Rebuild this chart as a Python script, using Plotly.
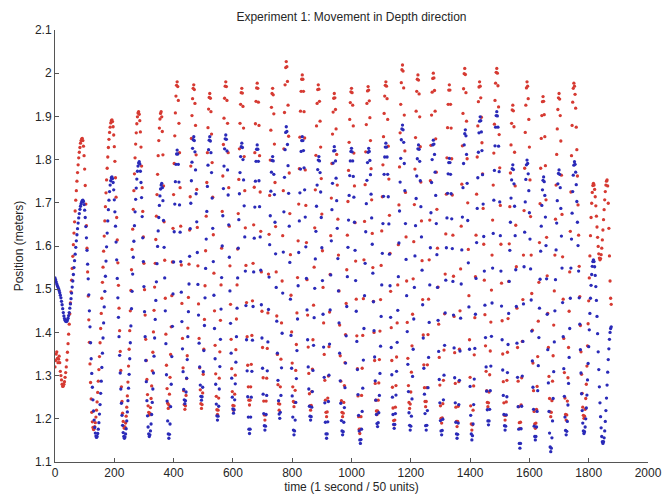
import numpy as np
import plotly.graph_objects as go

# Depth position of the two tracked markers (millimetres), one sample every 2 time units
SAMPLE_STEP = 2

red_depth_mm = [
    1320, 1335, 1350, 1355, 1340, 1330, 1338, 1345, 1330, 1310, 1300, 1290, 1280, 1275,
    1276, 1280, 1286, 1296, 1307, 1320, 1336, 1354, 1374, 1396, 1419, 1443, 1468, 1494, 1521, 1548, 1576, 1603, 1630, 1656, 1681, 1706, 1728, 1750, 1770, 1788, 1804, 1817, 1828, 1838, 1844, 1848, 1849,
    1844, 1831, 1809, 1778, 1740, 1697, 1647, 1595, 1540, 1484, 1429, 1377, 1327, 1284, 1246, 1215, 1193, 1180, 1175,
    1177, 1182, 1191, 1204, 1220, 1239, 1261, 1287, 1314, 1344, 1376, 1409, 1444, 1479, 1516, 1551, 1588, 1623, 1658, 1691, 1723, 1753, 1780, 1806, 1828, 1847, 1863, 1875, 1885, 1890, 1892,
    1888, 1876, 1857, 1830, 1796, 1758, 1713, 1666, 1614, 1561, 1509, 1456, 1404, 1356, 1312, 1274, 1240, 1213, 1194, 1182, 1178,
    1181, 1190, 1206, 1227, 1253, 1285, 1322, 1361, 1404, 1450, 1497, 1545, 1592, 1639, 1685, 1728, 1767, 1804, 1836, 1862, 1883, 1899, 1908, 1911,
    1905, 1890, 1864, 1829, 1785, 1735, 1680, 1621, 1560, 1499, 1440, 1384, 1335, 1291, 1256, 1230, 1215, 1209,
    1213, 1226, 1247, 1276, 1311, 1354, 1401, 1451, 1505, 1560, 1615, 1669, 1719, 1766, 1809, 1844, 1873, 1894, 1907, 1911,
    1899, 1865, 1811, 1739, 1656, 1567, 1479, 1396, 1324, 1270, 1236, 1224,
    1232, 1257, 1296, 1349, 1413, 1485, 1563, 1641, 1719, 1791, 1855, 1908, 1947, 1972, 1980,
    1969, 1937, 1884, 1816, 1735, 1646, 1556, 1467, 1386, 1318, 1265, 1233, 1222,
    1230, 1254, 1293, 1346, 1410, 1481, 1558, 1637, 1714, 1785, 1849, 1902, 1941, 1965, 1973,
    1962, 1930, 1879, 1811, 1731, 1643, 1554, 1466, 1386, 1318, 1267, 1235, 1224,
    1233, 1260, 1303, 1361, 1430, 1508, 1589, 1669, 1747, 1816, 1874, 1917, 1944, 1953,
    1942, 1911, 1859, 1793, 1713, 1626, 1537, 1450, 1370, 1304, 1252, 1221, 1210,
    1220, 1248, 1294, 1355, 1428, 1510, 1595, 1680, 1762, 1835, 1896, 1942, 1970, 1980,
    1969, 1937, 1884, 1816, 1735, 1646, 1554, 1465, 1384, 1316, 1263, 1231, 1220,
    1230, 1257, 1301, 1360, 1431, 1510, 1593, 1675, 1754, 1825, 1884, 1928, 1955, 1965,
    1954, 1923, 1873, 1807, 1728, 1642, 1555, 1469, 1390, 1324, 1274, 1243, 1232,
    1243, 1274, 1326, 1393, 1473, 1560, 1649, 1736, 1816, 1883, 1935, 1966, 1977,
    1965, 1933, 1879, 1809, 1725, 1634, 1540, 1449, 1365, 1295, 1241, 1209, 1197,
    1209, 1241, 1294, 1363, 1445, 1535, 1627, 1717, 1799, 1868, 1921, 1953, 1965,
    1950, 1906, 1836, 1747, 1645, 1540, 1438, 1349, 1279, 1235, 1220,
    1234, 1274, 1338, 1422, 1519, 1624, 1728, 1825, 1909, 1973, 2013, 2027,
    2015, 1981, 1926, 1854, 1769, 1675, 1580, 1486, 1401, 1329, 1274, 1240, 1228,
    1238, 1266, 1312, 1372, 1445, 1527, 1612, 1697, 1779, 1852, 1912, 1958, 1986, 1996,
    1986, 1958, 1911, 1850, 1776, 1694, 1608, 1522, 1440, 1366, 1305, 1258, 1230, 1220,
    1231, 1263, 1315, 1383, 1463, 1551, 1642, 1730, 1810, 1878, 1930, 1962, 1973,
    1963, 1935, 1889, 1829, 1756, 1674, 1589, 1504, 1422, 1349, 1289, 1243, 1215, 1205,
    1216, 1248, 1299, 1367, 1447, 1534, 1624, 1711, 1791, 1859, 1910, 1942, 1953,
    1943, 1916, 1871, 1812, 1741, 1662, 1579, 1496, 1417, 1346, 1287, 1242, 1215, 1205,
    1213, 1238, 1277, 1330, 1395, 1467, 1545, 1625, 1703, 1775, 1840, 1893, 1932, 1957, 1965,
    1955, 1926, 1878, 1815, 1739, 1654, 1565, 1477, 1392, 1316, 1253, 1205, 1176, 1166,
    1176, 1205, 1254, 1317, 1393, 1478, 1568, 1657, 1742, 1818, 1881, 1930, 1959, 1969,
    1961, 1936, 1897, 1844, 1779, 1707, 1629, 1550, 1472, 1400, 1335, 1282, 1243, 1218, 1210,
    1218, 1243, 1283, 1337, 1403, 1476, 1555, 1635, 1714, 1788, 1853, 1907, 1947, 1972, 1980,
    1970, 1941, 1893, 1831, 1755, 1671, 1583, 1495, 1411, 1335, 1273, 1225, 1196, 1186,
    1197, 1227, 1277, 1343, 1422, 1510, 1603, 1695, 1783, 1862, 1928, 1978, 2008, 2019,
    2005, 1966, 1903, 1820, 1724, 1621, 1519, 1423, 1340, 1277, 1238, 1224,
    1234, 1262, 1308, 1369, 1442, 1524, 1610, 1696, 1778, 1851, 1912, 1958, 1986, 1996,
    1984, 1952, 1899, 1830, 1748, 1658, 1566, 1476, 1394, 1325, 1272, 1240, 1228,
    1240, 1272, 1325, 1395, 1477, 1568, 1660, 1751, 1833, 1903, 1956, 1988, 2000,
    1989, 1960, 1912, 1848, 1771, 1685, 1595, 1505, 1419, 1342, 1278, 1230, 1201, 1190,
    1202, 1235, 1289, 1359, 1443, 1535, 1628, 1720, 1804, 1874, 1928, 1961, 1973,
    1961, 1928, 1873, 1802, 1718, 1625, 1530, 1437, 1353, 1282, 1227, 1194, 1182,
    1194, 1229, 1286, 1361, 1450, 1547, 1646, 1743, 1832, 1907, 1964, 1999, 2011,
    1997, 1955, 1889, 1802, 1700, 1592, 1485, 1383, 1296, 1230, 1188, 1174,
    1186, 1220, 1276, 1348, 1434, 1529, 1625, 1720, 1806, 1878, 1934, 1968, 1980,
    1970, 1943, 1898, 1839, 1767, 1687, 1604, 1521, 1441, 1369, 1310, 1265, 1238, 1228,
    1237, 1262, 1302, 1357, 1424, 1498, 1579, 1660, 1741, 1815, 1882, 1937, 1977, 2002, 2011,
    2000, 1971, 1922, 1858, 1781, 1694, 1604, 1514, 1427, 1350, 1286, 1237, 1208, 1197,
    1208, 1239, 1289, 1354, 1432, 1518, 1605, 1691, 1769, 1834, 1884, 1915, 1926,
    1913, 1876, 1817, 1739, 1648, 1552, 1456, 1365, 1287, 1228, 1191, 1178,
    1192, 1232, 1295, 1379, 1476, 1579, 1682, 1780, 1863, 1926, 1966, 1980,
    1970, 1941, 1893, 1829, 1753, 1668, 1579, 1490, 1405, 1329, 1265, 1217, 1188, 1178,
    1190, 1222, 1275, 1344, 1426, 1516, 1608, 1698, 1780, 1849, 1902, 1934, 1946,
    1935, 1904, 1853, 1786, 1707, 1620, 1531, 1444, 1365, 1298, 1247, 1216, 1205,
    1215, 1242, 1287, 1346, 1417, 1496, 1579, 1662, 1741, 1812, 1871, 1916, 1943, 1953,
    1940, 1902, 1843, 1764, 1673, 1575, 1477, 1386, 1307, 1248, 1210, 1197,
    1209, 1241, 1295, 1365, 1449, 1540, 1634, 1725, 1809, 1879, 1933, 1965, 1977,
    1970, 1951, 1919, 1875, 1823, 1762, 1695, 1625, 1553, 1483, 1416, 1355, 1303, 1259, 1227, 1208, 1201,
    1206, 1222, 1247, 1280, 1322, 1369, 1420, 1473, 1526, 1577, 1624, 1666, 1699, 1724, 1740, 1745,
    1741, 1731, 1714, 1693, 1669, 1644, 1620, 1599, 1582, 1572, 1568,
    1571, 1580, 1595, 1614, 1637, 1661, 1684, 1707, 1726, 1741, 1750, 1753,
    1739, 1699, 1641, 1577, 1519, 1479, 1465,
]

blue_depth_mm = [
    1526, 1522, 1517, 1512, 1508, 1505, 1501, 1497, 1492, 1486, 1480, 1472, 1464, 1455, 1446, 1438, 1432, 1428, 1426, 1425,
    1426, 1429, 1433, 1439, 1446, 1456, 1466, 1478, 1491, 1505, 1519, 1534, 1550, 1566, 1581, 1597, 1612, 1626, 1640, 1653, 1665, 1675, 1685, 1692, 1698, 1702, 1705, 1706,
    1703, 1696, 1683, 1666, 1645, 1619, 1590, 1558, 1524, 1487, 1450, 1413, 1376, 1339, 1305, 1273, 1244, 1218, 1197, 1180, 1167, 1160, 1157,
    1159, 1166, 1176, 1191, 1211, 1233, 1259, 1287, 1319, 1352, 1387, 1422, 1459, 1495, 1530, 1565, 1598, 1630, 1658, 1684, 1706, 1726, 1741, 1751, 1758, 1760,
    1756, 1747, 1730, 1707, 1679, 1646, 1609, 1568, 1525, 1480, 1435, 1390, 1347, 1306, 1269, 1236, 1208, 1185, 1168, 1159, 1155,
    1158, 1165, 1177, 1195, 1216, 1242, 1271, 1303, 1339, 1376, 1415, 1455, 1495, 1535, 1574, 1611, 1647, 1679, 1708, 1734, 1755, 1773, 1785, 1792, 1795,
    1790, 1773, 1747, 1712, 1668, 1619, 1564, 1506, 1448, 1390, 1335, 1286, 1242, 1207, 1181, 1165, 1159,
    1163, 1172, 1188, 1210, 1238, 1269, 1306, 1345, 1387, 1430, 1474, 1517, 1559, 1599, 1635, 1666, 1694, 1716, 1732, 1741, 1745,
    1735, 1705, 1659, 1597, 1526, 1450, 1374, 1302, 1241, 1195, 1165, 1155,
    1164, 1188, 1228, 1280, 1344, 1414, 1489, 1563, 1633, 1697, 1749, 1789, 1813, 1822,
    1813, 1789, 1748, 1695, 1632, 1564, 1493, 1425, 1362, 1309, 1268, 1244, 1235,
    1242, 1262, 1294, 1337, 1390, 1448, 1512, 1576, 1640, 1699, 1751, 1794, 1826, 1846, 1853,
    1844, 1818, 1776, 1721, 1656, 1585, 1511, 1440, 1375, 1320, 1278, 1252, 1243,
    1251, 1273, 1309, 1358, 1416, 1480, 1548, 1616, 1680, 1738, 1787, 1823, 1845, 1853,
    1843, 1816, 1770, 1711, 1641, 1564, 1486, 1409, 1339, 1280, 1234, 1207, 1197,
    1206, 1229, 1269, 1321, 1384, 1454, 1527, 1600, 1670, 1733, 1785, 1825, 1848, 1857,
    1847, 1820, 1776, 1718, 1649, 1574, 1496, 1421, 1352, 1294, 1250, 1223, 1213,
    1221, 1244, 1281, 1331, 1390, 1456, 1526, 1595, 1661, 1721, 1770, 1807, 1830, 1838,
    1828, 1800, 1753, 1693, 1621, 1542, 1462, 1383, 1311, 1251, 1204, 1176, 1166,
    1176, 1204, 1250, 1310, 1382, 1460, 1540, 1618, 1690, 1750, 1796, 1824, 1834,
    1824, 1796, 1751, 1691, 1621, 1544, 1464, 1387, 1317, 1257, 1212, 1184, 1174,
    1183, 1210, 1254, 1311, 1378, 1453, 1528, 1603, 1670, 1727, 1771, 1798, 1807,
    1797, 1766, 1719, 1655, 1582, 1504, 1426, 1352, 1289, 1242, 1211, 1201,
    1215, 1254, 1318, 1398, 1491, 1586, 1679, 1759, 1823, 1863, 1876,
    1865, 1835, 1786, 1722, 1646, 1562, 1477, 1393, 1317, 1253, 1204, 1174, 1163,
    1172, 1197, 1238, 1293, 1358, 1431, 1508, 1585, 1658, 1723, 1778, 1819, 1844, 1853,
    1844, 1821, 1781, 1730, 1667, 1598, 1525, 1452, 1383, 1320, 1269, 1229, 1206, 1197,
    1205, 1227, 1263, 1312, 1370, 1434, 1502, 1570, 1634, 1692, 1741, 1777, 1799, 1807,
    1797, 1770, 1725, 1666, 1596, 1520, 1442, 1366, 1296, 1237, 1192, 1165, 1155,
    1165, 1193, 1240, 1301, 1373, 1452, 1533, 1612, 1684, 1745, 1792, 1820, 1830,
    1821, 1797, 1757, 1705, 1641, 1571, 1496, 1422, 1352, 1288, 1236, 1196, 1172, 1163,
    1170, 1192, 1226, 1272, 1329, 1392, 1460, 1529, 1597, 1660, 1717, 1763, 1797, 1819, 1826,
    1818, 1797, 1761, 1713, 1655, 1590, 1520, 1449, 1379, 1314, 1256, 1208, 1172, 1151, 1143,
    1152, 1176, 1217, 1271, 1336, 1409, 1485, 1560, 1633, 1698, 1752, 1793, 1817, 1826,
    1819, 1798, 1765, 1720, 1665, 1604, 1537, 1471, 1404, 1343, 1288, 1243, 1210, 1189, 1182,
    1191, 1214, 1254, 1305, 1368, 1437, 1510, 1583, 1652, 1715, 1766, 1806, 1829, 1838,
    1829, 1806, 1766, 1714, 1651, 1581, 1508, 1435, 1365, 1302, 1250, 1210, 1187, 1178,
    1187, 1212, 1255, 1310, 1377, 1451, 1529, 1607, 1681, 1748, 1803, 1846, 1871, 1880,
    1869, 1840, 1791, 1728, 1652, 1569, 1485, 1402, 1326, 1263, 1214, 1185, 1174,
    1183, 1206, 1246, 1298, 1361, 1431, 1504, 1577, 1647, 1710, 1762, 1802, 1825, 1834,
    1824, 1796, 1751, 1691, 1621, 1544, 1464, 1387, 1317, 1257, 1212, 1184, 1174,
    1185, 1219, 1272, 1342, 1423, 1510, 1596, 1677, 1747, 1800, 1834, 1845,
    1836, 1812, 1771, 1717, 1652, 1580, 1504, 1428, 1356, 1291, 1237, 1196, 1172, 1163,
    1173, 1199, 1244, 1301, 1370, 1445, 1521, 1596, 1665, 1722, 1767, 1793, 1803,
    1793, 1766, 1721, 1663, 1594, 1518, 1440, 1364, 1295, 1237, 1192, 1165, 1155,
    1164, 1190, 1233, 1289, 1357, 1433, 1512, 1591, 1667, 1735, 1791, 1834, 1860, 1869,
    1855, 1812, 1745, 1659, 1561, 1459, 1361, 1275, 1208, 1165, 1151,
    1161, 1188, 1233, 1292, 1363, 1442, 1525, 1608, 1687, 1758, 1817, 1862, 1889, 1899,
    1890, 1864, 1821, 1765, 1697, 1622, 1542, 1463, 1388, 1320, 1264, 1221, 1195, 1186,
    1195, 1222, 1265, 1322, 1391, 1468, 1549, 1629, 1706, 1775, 1832, 1875, 1902, 1911,
    1901, 1875, 1831, 1772, 1702, 1624, 1542, 1461, 1383, 1313, 1254, 1210, 1184, 1174,
    1183, 1209, 1251, 1307, 1372, 1444, 1518, 1590, 1655, 1711, 1753, 1779, 1788,
    1777, 1744, 1692, 1624, 1545, 1460, 1375, 1296, 1228, 1176, 1143, 1132,
    1143, 1177, 1229, 1299, 1379, 1466, 1552, 1632, 1702, 1754, 1788, 1799,
    1791, 1767, 1728, 1677, 1616, 1547, 1475, 1403, 1334, 1273, 1222, 1183, 1159, 1151,
    1159, 1181, 1217, 1265, 1323, 1388, 1456, 1523, 1588, 1646, 1694, 1730, 1752, 1760,
    1749, 1717, 1667, 1601, 1524, 1442, 1360, 1283, 1217, 1167, 1135, 1124,
    1132, 1156, 1195, 1247, 1309, 1378, 1450, 1522, 1591, 1653, 1705, 1744, 1768, 1776,
    1766, 1735, 1687, 1623, 1549, 1469, 1390, 1316, 1252, 1204, 1173, 1163,
    1171, 1194, 1232, 1282, 1342, 1409, 1479, 1549, 1616, 1676, 1726, 1764, 1787, 1795,
    1789, 1771, 1742, 1703, 1655, 1601, 1542, 1480, 1419, 1360, 1306, 1258, 1219, 1190, 1172, 1166,
    1170, 1181, 1200, 1225, 1255, 1290, 1328, 1367, 1406, 1444, 1479, 1509, 1534, 1553, 1564, 1568,
    1564, 1552, 1532, 1506, 1474, 1437, 1397, 1355, 1314, 1274, 1237, 1205, 1179, 1159, 1147, 1143,
    1147, 1156, 1172, 1194, 1219, 1248, 1278, 1308, 1337, 1362, 1384, 1400, 1409, 1413,
]

x_ticks = [0, 200, 400, 600, 800, 1000, 1200, 1400, 1600, 1800, 2000]
y_ticks = [1.1, 1.2, 1.3, 1.4, 1.5, 1.6, 1.7, 1.8, 1.9, 2.0, 2.1]
y_tick_labels = ["1.1", "1.2", "1.3", "1.4", "1.5", "1.6", "1.7", "1.8", "1.9", "2", "2.1"]

red_pos = np.array(red_depth_mm) / 1000.0
blue_pos = np.array(blue_depth_mm) / 1000.0
red_time = np.arange(len(red_pos)) * SAMPLE_STEP
blue_time = np.arange(len(blue_pos)) * SAMPLE_STEP

FONT = "Liberation Sans, Arial, sans-serif"
TEXT_COLOR = "#262626"
AXIS_COLOR = "#555555"

fig = go.Figure()
fig.add_trace(go.Scatter(
    x=red_time, y=red_pos, mode="markers",
    marker=dict(color="#d63a32", size=3.3, line=dict(width=0)),
    showlegend=False,
))
fig.add_trace(go.Scatter(
    x=blue_time, y=blue_pos, mode="markers",
    marker=dict(color="#2a2ab8", size=3.3, line=dict(width=0)),
    showlegend=False,
))

fig.update_layout(
    width=664, height=500,
    margin=dict(l=55, r=16, t=30, b=38, autoexpand=False),
    paper_bgcolor="white", plot_bgcolor="white",
    font=dict(family=FONT, size=12, color=TEXT_COLOR),
    title=dict(
        text="Experiment 1: Movement in Depth direction",
        x=0.5, xref="paper", y=1 - 17 / 500, yref="container",
        xanchor="center", yanchor="middle",
        font=dict(family=FONT, size=12, color=TEXT_COLOR),
    ),
)
fig.update_xaxes(
    range=[0, 2000], tickvals=x_ticks, ticks="inside", ticklen=4,
    tickcolor=AXIS_COLOR, showline=True, linecolor=AXIS_COLOR, linewidth=1,
    showgrid=False, zeroline=False, automargin=False,
    title=dict(text="time (1 second / 50 units)", standoff=2,
               font=dict(family=FONT, size=12, color=TEXT_COLOR)),
    tickfont=dict(family=FONT, size=12, color=TEXT_COLOR),
)
fig.update_yaxes(
    range=[1.1, 2.1], tickvals=y_ticks, ticktext=y_tick_labels,
    ticks="inside", ticklen=4, tickcolor=AXIS_COLOR,
    showline=True, linecolor=AXIS_COLOR, linewidth=1,
    showgrid=False, zeroline=False, automargin=False,
    title=dict(text="Position (meters)", standoff=8,
               font=dict(family=FONT, size=12, color=TEXT_COLOR)),
    tickfont=dict(family=FONT, size=12, color=TEXT_COLOR),
)

fig.write_html("out.html")
